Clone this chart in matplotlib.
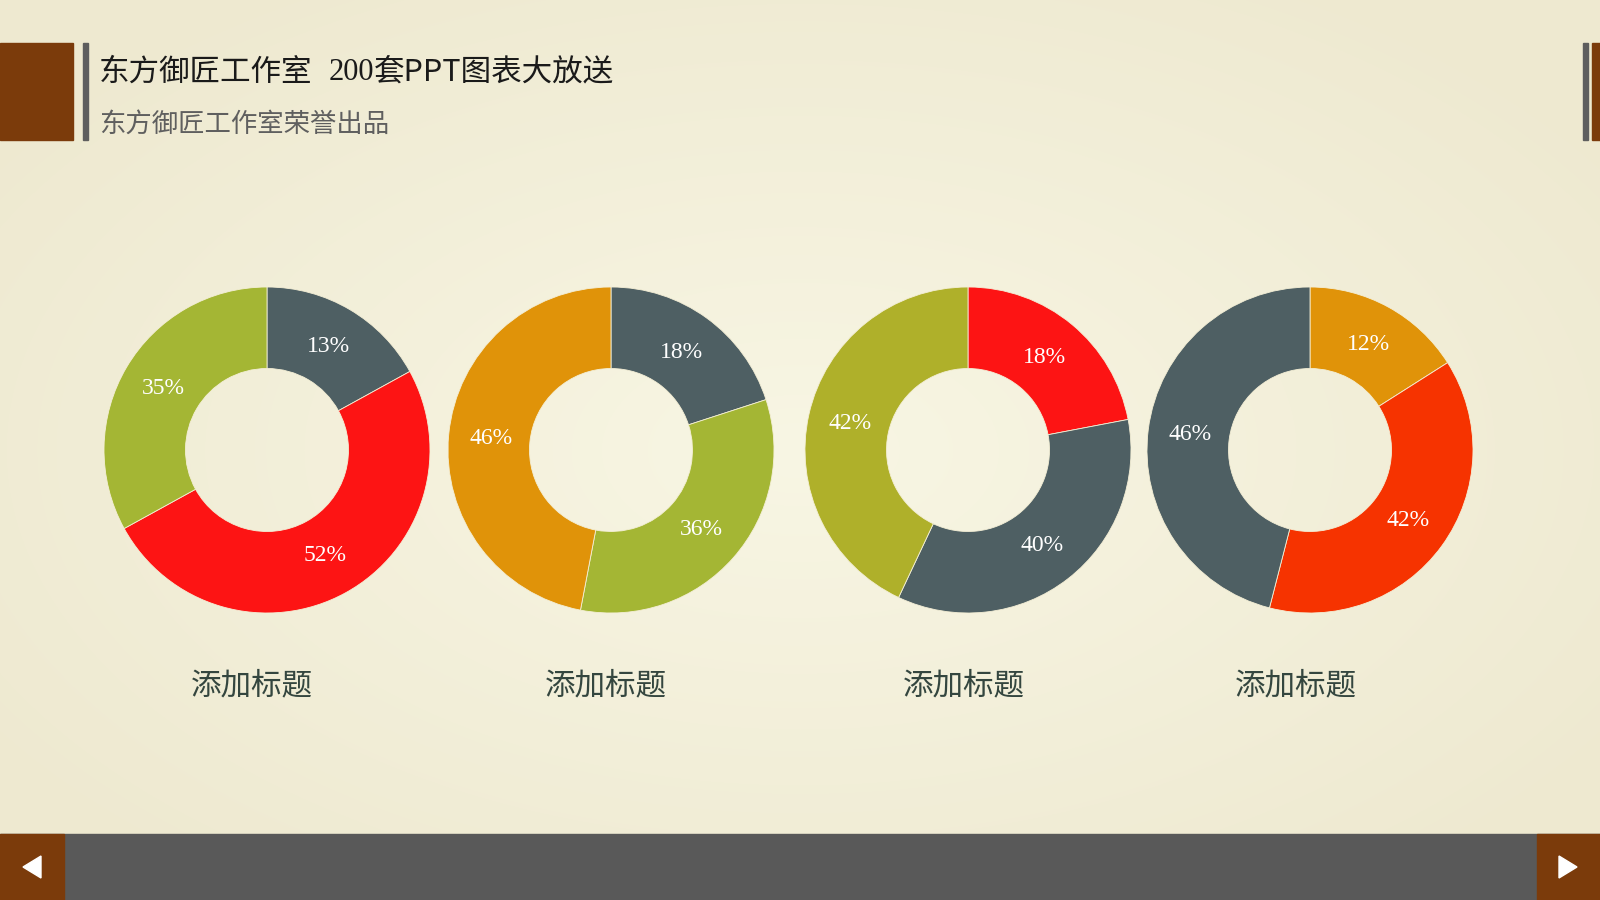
# -*- coding: utf-8 -*-
"""
 Four donut charts on a cream slide, PPT style
"""

import numpy as np
import matplotlib.pyplot as plt
from matplotlib.patches import Rectangle, Polygon

plt.rcParams['font.family'] = ['Noto Sans CJK SC', 'DejaVu Sans']

title_parts = ['东方御匠工作室', '200', '套PPT图表大放送']
subtitle = '东方御匠工作室荣誉出品'
captions = ['添加标题', '添加标题', '添加标题', '添加标题']

# slice sizes as drawn, and the labels typed on them
values_1 = [17, 50, 33]
values_2 = [20, 33, 47]
values_3 = [22, 35, 43]
values_4 = [16, 38, 46]

labels_1 = ['13%', '52%', '35%']
labels_2 = ['18%', '36%', '46%']
labels_3 = ['18%', '40%', '42%']
labels_4 = ['12%', '42%', '46%']

SLATE = '#4E5F63'
RED = '#FD1414'
GREEN = '#A4B634'
ORANGE = '#E09309'
OLIVE = '#AFB02A'
REDORANGE = '#F63300'

colors_1 = [SLATE, RED, GREEN]
colors_2 = [SLATE, GREEN, ORANGE]
colors_3 = [RED, SLATE, OLIVE]
colors_4 = [ORANGE, REDORANGE, SLATE]

W, H = 1600, 900
fig = plt.figure(figsize=(16, 9), dpi=100)

# background, drawn in pixel coordinates
bg = fig.add_axes([0, 0, 1, 1])
bg.set_xlim(0, W)
bg.set_ylim(H, 0)
bg.axis('off')

yy, xx = np.mgrid[0:H, 0:W]
d = np.sqrt(((xx - W * 0.5) / (W * 0.62)) ** 2 + ((yy - H * 0.5) / (H * 0.62)) ** 2)
d = np.clip(d, 0, 1)
c_in = np.array([248, 246, 228]) / 255.0
c_out = np.array([238, 233, 208]) / 255.0
img = c_in[None, None, :] * (1 - d[..., None]) + c_out[None, None, :] * d[..., None]
bg.imshow(img, extent=(0, W, H, 0), aspect='auto', zorder=0)

BROWN = '#7B3B0B'
GRAY = '#5E5E5E'

# header blocks
bg.add_patch(Rectangle((0, 43), 73, 97, color=BROWN, zorder=1))
bg.add_patch(Rectangle((83, 43), 5, 97, color=GRAY, zorder=1))
bg.add_patch(Rectangle((1583, 43), 5, 97, color=GRAY, zorder=1))
bg.add_patch(Rectangle((1592, 43), 8, 97, color=BROWN, zorder=1))

# title in pieces: the digits are set in a serif face
renderer = fig.canvas.get_renderer()
x = 99
gaps = [16, 0, 0]
for part, gap in zip(title_parts, gaps):
    fam = ['Liberation Serif'] if part.isdigit() else ['Noto Sans CJK SC', 'DejaVu Sans']
    t = bg.text(x, 72, part, fontsize=22, color='#1A1A1A', va='center',
                ha='left', family=fam)
    x += t.get_window_extent(renderer).width + gap

bg.text(99, 124, subtitle, fontsize=19, color='#5F5F5F', va='center', ha='left')

# footer bar
bg.add_patch(Rectangle((0, 834), W, 66, color='#595959', zorder=1))
bg.add_patch(Rectangle((0, 834), 64, 66, color=BROWN, zorder=2))
bg.add_patch(Rectangle((1537, 834), 63, 66, color=BROWN, zorder=2))
bg.add_patch(Polygon([(23, 867), (41, 856), (41, 878)], color='white', zorder=3))
bg.add_patch(Polygon([(1577, 867), (1559, 856), (1559, 878)], color='white', zorder=3))

# donuts
centers = [(267, 450), (611, 450), (968, 450), (1310, 450)]
radius = 163
caption_x = [252, 606, 964, 1296]
all_values = [values_1, values_2, values_3, values_4]
all_labels = [labels_1, labels_2, labels_3, labels_4]
all_colors = [colors_1, colors_2, colors_3, colors_4]

for (cx, cy), vals, labs, cols in zip(centers, all_values, all_labels, all_colors):
    ax = fig.add_axes([(cx - radius) / W, (H - cy - radius) / H,
                       2 * radius / W, 2 * radius / H])
    wedges, texts = ax.pie(
        vals, colors=cols, startangle=90, counterclock=False, radius=1,
        wedgeprops=dict(width=0.5, edgecolor='#F4EFD6', linewidth=0.6))
    for w, lab in zip(wedges, labs):
        ang = np.deg2rad((w.theta1 + w.theta2) / 2)
        ax.text(0.74 * np.cos(ang), 0.74 * np.sin(ang), lab, color='white',
                fontsize=17, family='Liberation Serif', ha='center', va='center')
    ax.set_xlim(-1, 1)
    ax.set_ylim(-1, 1)
    ax.set_aspect('equal')

for x, cap in zip(caption_x, captions):
    bg.text(x, 686, cap, fontsize=22, color='#34463F', ha='center', va='center')

fig.savefig('out.png', dpi=100)
